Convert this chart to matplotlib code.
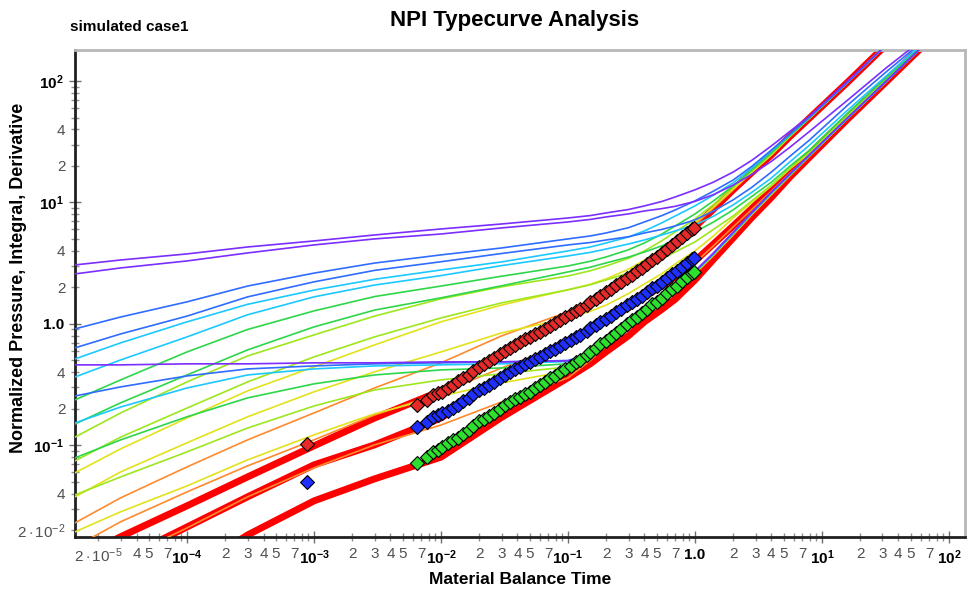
import numpy as np
import matplotlib
matplotlib.use('Agg')
from matplotlib import pyplot as plt

plt.rcParams['font.family'] = ['Liberation Sans', 'DejaVu Sans']
plt.rcParams['mathtext.fontset'] = 'custom'
plt.rcParams['mathtext.rm'] = 'Liberation Sans'
plt.rcParams['mathtext.it'] = 'Liberation Sans:italic'
plt.rcParams['mathtext.bf'] = 'Liberation Sans:bold'

# typecurve time grid (material balance time)
tc_t = [1.31e-5, 3e-5, 1e-4, 3e-4, 1e-3, 3e-3, 1e-2, 3e-2, 0.1, 0.15, 0.2, 0.3, 0.4,
        0.55, 0.7, 1.0, 1.4, 2.0, 2.8, 4.0, 5.6, 8.0, 16.0, 32.0, 64.0]

# red (largest reD) - pressure, integral, derivative
pd_red = [0.0114, 0.0177, 0.0318, 0.055, 0.0991, 0.168, 0.281, 0.566, 1.16, 1.47, 1.80, 2.33, 2.94,
          3.70, 4.47, 6.29, 8.8, 12.7, 17.6, 24.6, 34.9, 49.6, 98.1, 198, 399]
pdi_red = [0.0074, 0.0114, 0.0213, 0.0377, 0.0691, 0.101, 0.168, 0.359, 0.725, 0.90, 1.08, 1.36, 1.67,
           2.06, 2.44, 3.30, 4.55, 6.41, 8.9, 12.7, 17.7, 25.1, 50.5, 100, 201.6]
pdid_red = [0.0025, 0.0044, 0.0088, 0.0183, 0.0349, 0.053, 0.080, 0.170, 0.360, 0.47, 0.59, 0.80, 1.04,
            1.32, 1.60, 2.30, 3.4, 5.10, 7.5, 11.0, 16.2, 23.6, 48.7, 98.1, 197.9]

pd_purple = [3.06, 3.36, 3.77, 4.30, 4.82, 5.40, 6.05, 6.65, 7.45, 7.8, 8.20, 8.75, 9.36,
             10.2, 11.1, 12.7, 14.7, 17.8, 22.2, 29.2, 38.5, 51.5, 100, 198, 399]
pdi_purple = [2.58, 2.89, 3.30, 3.84, 4.47, 5.01, 5.50, 6.17, 6.91, 7.25, 7.60, 8.05, 8.51,
              8.9, 9.3, 10.2, 11.6, 13.9, 17.0, 21.8, 28.5, 38.5, 69.8, 127.9, 225.9]
pdid_purple = [0.460, 0.460, 0.469, 0.469, 0.478, 0.478, 0.487, 0.487, 0.496, 0.56, 0.72, 1.0, 1.24,
               1.65, 1.96, 2.72, 3.85, 5.7, 8.3, 12.2, 17.2, 24.8, 50.0, 99.5, 199]

pd_blue = [0.910, 1.14, 1.52, 2.05, 2.62, 3.17, 3.70, 4.22, 5.01, 5.3, 5.61, 6.2, 6.91,
           7.8, 8.68, 10.3, 12.4, 15.3, 19.8, 27.0, 36.5, 50.5, 98.1, 198, 399]
pdi_blue = [0.635, 0.827, 1.16, 1.67, 2.22, 2.76, 3.25, 3.80, 4.47, 4.68, 4.91, 5.22, 5.61,
            6.0, 6.41, 7.18, 8.5, 10.5, 13.3, 17.8, 24.0, 32.7, 63.5, 118.6, 217.5]
pdid_blue = [0.255, 0.303, 0.373, 0.426, 0.451, 0.469, 0.478, 0.487, 0.50, 0.57, 0.72, 1.0, 1.23,
             1.64, 1.95, 2.70, 3.8, 5.65, 8.2, 12.1, 17.1, 24.6, 49.8, 99.3, 199]

pd_cyan = [0.515, 0.698, 1.04, 1.45, 1.90, 2.33, 2.78, 3.24, 3.99, 4.3, 4.64, 5.2, 5.83,
           6.8, 7.74, 9.36, 11.5, 14.5, 19.2, 26.5, 36.2, 50.5, 98.1, 198, 399]
pdi_cyan = [0.366, 0.505, 0.782, 1.19, 1.67, 2.09, 2.50, 3.02, 3.63, 3.88, 4.14, 4.55, 4.91,
            5.4, 5.83, 6.53, 7.7, 9.54, 12.1, 15.9, 21.6, 29.7, 57.7, 109.9, 209.4]
pdid_cyan = [0.153, 0.207, 0.297, 0.380, 0.426, 0.451, 0.460, 0.469, 0.49, 0.58, 0.72, 0.99, 1.22,
             1.63, 1.94, 2.68, 3.78, 5.6, 8.15, 12.0, 17.0, 24.5, 49.6, 99.1, 199]

pd_green = [0.237, 0.346, 0.588, 0.90, 1.28, 1.68, 2.05, 2.47, 3.00, 3.28, 3.56, 4.08, 4.64,
            5.5, 6.41, 8.04, 10.3, 13.7, 18.5, 25.5, 35.5, 49.6, 98.1, 198, 399]
pdi_green = [0.150, 0.224, 0.380, 0.611, 0.945, 1.30, 1.64, 2.06, 2.68, 2.93, 3.18, 3.55, 3.91,
             4.4, 4.91, 5.72, 6.9, 8.68, 11.2, 14.7, 19.9, 27.0, 54.5, 105.9, 205.5]
pdid_green = [0.0789, 0.111, 0.172, 0.246, 0.321, 0.380, 0.418, 0.434, 0.47, 0.57, 0.71, 0.98, 1.21,
              1.62, 1.92, 2.66, 3.75, 5.55, 8.1, 11.9, 16.9, 24.4, 49.5, 99, 199]

pd_lime = [0.117, 0.185, 0.333, 0.545, 0.812, 1.16, 1.61, 2.02, 2.48, 2.74, 3.00, 3.47, 3.99,
           4.85, 5.72, 7.31, 9.6, 13.4, 18.1, 25.1, 35.2, 49.6, 98.1, 198, 399]
pdi_lime = [0.0745, 0.117, 0.203, 0.333, 0.535, 0.782, 1.12, 1.49, 1.91, 2.1, 2.30, 2.63, 3.00,
            3.45, 3.91, 4.73, 6.0, 7.74, 10.3, 13.9, 19.2, 26.0, 52.5, 103.9, 205.5]
pdid_lime = [0.0391, 0.055, 0.0884, 0.139, 0.211, 0.286, 0.346, 0.388, 0.443, 0.56, 0.70, 0.97, 1.2,
             1.6, 1.9, 2.64, 3.72, 5.5, 8.05, 11.8, 16.8, 24.3, 49.4, 98.9, 199]

pd_yellow = [0.0594, 0.0936, 0.168, 0.281, 0.443, 0.672, 1.04, 1.43, 1.91, 2.12, 2.35, 2.82, 3.36,
             4.15, 5.01, 6.78, 9.2, 12.9, 17.8, 24.6, 35.0, 49.6, 98.1, 198, 399]
pdi_yellow = [0.0377, 0.0605, 0.105, 0.172, 0.276, 0.403, 0.588, 0.843, 1.12, 1.27, 1.43, 1.78, 2.13,
              2.6, 3.12, 3.99, 5.3, 7.45, 10.0, 13.7, 18.9, 25.5, 51.5, 101.9, 201.6]
pdid_yellow = [0.0194, 0.0284, 0.0464, 0.076, 0.122, 0.182, 0.255, 0.327, 0.410, 0.54, 0.69, 0.96, 1.19,
               1.58, 1.88, 2.62, 3.7, 5.45, 8.0, 11.7, 16.7, 24.2, 49.3, 98.8, 199]

pd_orange = [0.023, 0.037, 0.0665, 0.111, 0.185, 0.297, 0.478, 0.797, 1.26, 1.55, 1.87, 2.35, 2.89,
             3.65, 4.47, 6.53, 9.0, 12.7, 17.6, 24.6, 34.9, 49.6, 98.1, 198, 399]
pdi_orange = [0.0146, 0.0235, 0.0414, 0.0678, 0.111, 0.178, 0.270, 0.434, 0.698, 0.87, 1.04, 1.33, 1.64,
              2.03, 2.39, 3.18, 4.4, 6.29, 8.75, 12.4, 17.4, 24.6, 50.5, 100, 201.6]
pdid_orange = [0.0077, 0.0114, 0.0209, 0.0377, 0.0653, 0.101, 0.147, 0.228, 0.359, 0.50, 0.66, 0.94, 1.17,
               1.55, 1.85, 2.58, 3.65, 5.4, 7.9, 11.6, 16.6, 24.1, 49.2, 98.7, 199]

# production data: normalized pressure, integral, integral-derivative
data_t = [8.8e-4, 6.5e-3, 7.8e-3, 8.65e-3, 9.47e-3, 1.02e-2, 1.13e-2, 1.25e-2, 1.36e-2,
          0.015, 0.0165, 0.018, 0.02, 0.022, 0.024, 0.026, 0.029, 0.032, 0.035,
          0.038, 0.042, 0.046, 0.05, 0.055, 0.06, 0.066, 0.072, 0.079, 0.087,
          0.095, 0.105, 0.115, 0.125, 0.14, 0.15, 0.165, 0.18, 0.2, 0.22,
          0.24, 0.26, 0.29, 0.32, 0.35, 0.38, 0.42, 0.46, 0.5, 0.55,
          0.6, 0.66, 0.72, 0.79, 0.87, 0.95, 0.98]
data_pd = [0.103, 0.215, 0.237, 0.260, 0.270, 0.275, 0.297, 0.315, 0.338,
           0.36, 0.38, 0.41, 0.443, 0.469, 0.496, 0.525, 0.566, 0.600, 0.634,
           0.672, 0.711, 0.753, 0.782, 0.828, 0.859, 0.91, 0.963, 1.02, 1.08,
           1.14, 1.21, 1.28, 1.33, 1.43, 1.52, 1.61, 1.70, 1.83, 1.94,
           2.09, 2.22, 2.39, 2.53, 2.73, 2.89, 3.12, 3.36, 3.56, 3.84,
           4.14, 4.47, 4.82, 5.20, 5.61, 6.05, 6.17]
data_pdi = [0.0501, 0.142, 0.156, 0.172, 0.178, 0.185, 0.192, 0.203, 0.215,
            0.232, 0.246, 0.265, 0.286, 0.297, 0.315, 0.333, 0.359, 0.380, 0.403,
            0.426, 0.443, 0.469, 0.487, 0.515, 0.535, 0.566, 0.600, 0.623, 0.659,
            0.698, 0.738, 0.782, 0.812, 0.876, 0.927, 0.981, 1.04, 1.10, 1.16,
            1.26, 1.33, 1.43, 1.52, 1.61, 1.70, 1.83, 1.98, 2.06, 2.22,
            2.39, 2.58, 2.73, 2.94, 3.18, 3.43, 3.49]
data_pdid = [np.nan, 0.0718, 0.0804, 0.0884, 0.0918, 0.0972, 0.105, 0.111, 0.115,
             0.124, 0.134, 0.145, 0.159, 0.165, 0.175, 0.185, 0.200, 0.215, 0.228,
             0.241, 0.251, 0.265, 0.276, 0.297, 0.315, 0.333, 0.359, 0.373, 0.403,
             0.426, 0.451, 0.487, 0.505, 0.556, 0.588, 0.635, 0.684, 0.725, 0.782,
             0.843, 0.910, 1.00, 1.08, 1.14, 1.23, 1.33, 1.46, 1.52, 1.64,
             1.80, 1.94, 2.06, 2.26, 2.44, 2.63, 2.68]

families = [
    (pd_orange, pdi_orange, pdid_orange, '#ff8a2e'),
    (pd_yellow, pdi_yellow, pdid_yellow, '#e2e21c'),
    (pd_lime, pdi_lime, pdid_lime, '#9ee61e'),
    (pd_green, pdi_green, pdid_green, '#2ed64a'),
    (pd_cyan, pdi_cyan, pdid_cyan, '#1cc8ff'),
    (pd_blue, pdi_blue, pdid_blue, '#2f6cff'),
    (pd_purple, pdi_purple, pdid_purple, '#7b2eff'),
]

fig = plt.figure(figsize=(9.69, 5.93), dpi=100)
ax = fig.add_axes([75 / 969, 1 - 537 / 593, 890 / 969, 487 / 593])
ax.set_xscale('log')
ax.set_yscale('log')

for y in (pd_red, pdi_red, pdid_red):
    ax.plot(tc_t, y, color='#ff0000', lw=5, solid_capstyle='round', solid_joinstyle='round', zorder=2)
for pd, pdi, pdid, col in families:
    for y in (pd, pdi, pdid):
        ax.plot(tc_t, y, color=col, lw=1.2, solid_joinstyle='round', zorder=3)

mk = dict(ls='none', marker='D', ms=7, mec='black', mew=0.8, zorder=5)
ax.plot(data_t, data_pd, mfc='#e62a2a', **mk)
ax.plot(data_t, data_pdi, mfc='#1f2fff', **mk)
ax.plot(data_t, data_pdid, mfc='#2ee02e', **mk)

ax.set_xlim(1.31e-5, 134)
ax.set_ylim(0.0176, 180)

# ticks
xmaj = [1e-4, 1e-3, 1e-2, 1e-1, 1.0, 10.0, 100.0]
xmaj_lab = [r'$\mathbf{10^{-4}}$', r'$\mathbf{10^{-3}}$', r'$\mathbf{10^{-2}}$',
            r'$\mathbf{10^{-1}}$', '1.0', r'$\mathbf{10^{1}}$', r'$\mathbf{10^{2}}$']
xmin, xmin_lab = [], []
for d in range(-5, 2):
    for k in range(2, 10):
        v = k * 10.0 ** d
        if v < 1.31e-5 or v > 134:
            continue
        xmin.append(v)
        if d == -5 and k == 2:
            xmin_lab.append(r'$2\cdot10^{-5}$')
        elif d == -5 and k == 3:
            xmin_lab.append('')
        elif k in (2, 3, 4, 5, 7):
            xmin_lab.append(str(k))
        else:
            xmin_lab.append('')

ymaj = [0.1, 1.0, 10.0, 100.0]
ymaj_lab = [r'$\mathbf{10^{-1}}$', '1.0', r'$\mathbf{10^{1}}$', r'$\mathbf{10^{2}}$']
ymin, ymin_lab = [], []
for d in range(-2, 3):
    for k in range(2, 10):
        v = k * 10.0 ** d
        if v < 0.0176 or v > 180:
            continue
        ymin.append(v)
        if d == -2 and k == 2:
            ymin_lab.append(r'$2\cdot10^{-2}$')
        elif k in (2, 4):
            ymin_lab.append(str(k))
        else:
            ymin_lab.append('')

ax.set_xticks(xmaj, xmaj_lab)
ax.set_xticks(xmin, xmin_lab, minor=True)
ax.set_yticks(ymaj, ymaj_lab)
ax.set_yticks(ymin, ymin_lab, minor=True)

ax.tick_params(which='major', direction='inout', length=8, width=1, color='#707070',
               labelsize=11, pad=4)
ax.tick_params(which='minor', direction='inout', length=6, width=1, color='#909090',
               labelsize=11, pad=4)
for lab in ax.get_xticklabels() + ax.get_yticklabels():
    lab.set_fontweight('bold')
    lab.set_color('black')
for lab in ax.get_xticklabels(minor=True) + ax.get_yticklabels(minor=True):
    lab.set_color('#505050')

for s in ('left', 'bottom'):
    ax.spines[s].set_color('#202020')
    ax.spines[s].set_linewidth(2)
for s in ('top', 'right'):
    ax.spines[s].set_color('#b8b8b8')
    ax.spines[s].set_linewidth(2)

fig.text(0.531, 0.966, 'NPI Typecurve Analysis', ha='center', va='center',
         fontsize=16, fontweight='bold')
fig.text(0.072, 0.954, 'simulated case1', ha='left', va='center',
         fontsize=11, fontweight='bold')
fig.text(0.537, 0.022, 'Material Balance Time', ha='center', va='center',
         fontsize=12.5, fontweight='bold')
fig.text(0.019, 0.532, 'Normalized Pressure, Integral, Derivative', ha='center', va='center',
         rotation=90, fontsize=13, fontweight='bold')

plt.savefig('out.png', dpi=100)
